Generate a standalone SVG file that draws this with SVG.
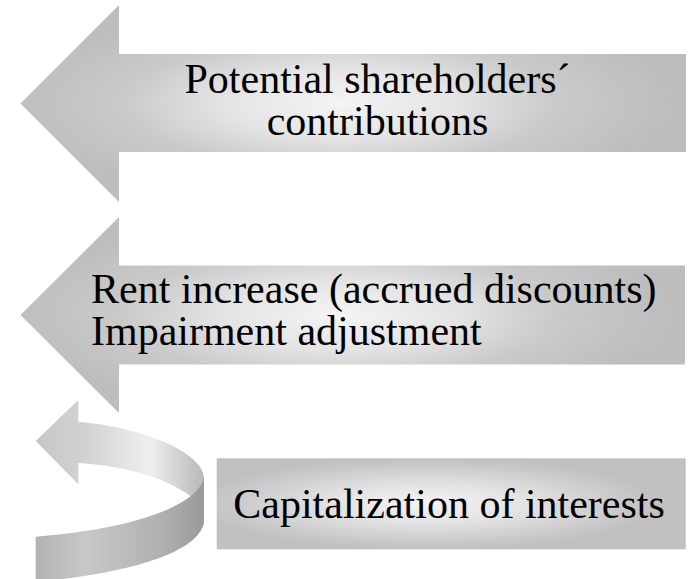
<svg xmlns="http://www.w3.org/2000/svg" width="692" height="579" viewBox="0 0 692 579">
  <defs>
    <style>
      text { font-family: 'Times New Roman', Times, 'Liberation Serif', 'Noto Serif', 'DejaVu Serif', serif; font-size: 42px; fill: #000000; }
      .block { fill: url(#blockShade); }
      .plate { fill: url(#plateShade); }
    </style>
    <!-- soft grey shading, light in the middle, darker toward the rims -->
    <radialGradient id="blockShade" cx="0.48" cy="0.5" r="0.5">
      <stop offset="0" stop-color="#f4f4f4"/>
      <stop offset="0.35" stop-color="#e4e4e4"/>
      <stop offset="0.65" stop-color="#cacaca"/>
      <stop offset="1" stop-color="#bdbdbd"/>
    </radialGradient>
    <radialGradient id="plateShade" cx="0.45" cy="0.5" r="0.5">
      <stop offset="0" stop-color="#f3f3f3"/>
      <stop offset="0.4" stop-color="#e4e4e4"/>
      <stop offset="1" stop-color="#c0c0c0"/>
    </radialGradient>
    <!-- curled arrow: back strip (with head) and front strip -->
    <linearGradient id="curlBack" x1="35" y1="0" x2="204" y2="0" gradientUnits="userSpaceOnUse">
      <stop offset="0" stop-color="#c6c6c6"/>
      <stop offset="0.3" stop-color="#d2d2d2"/>
      <stop offset="0.68" stop-color="#efefef"/>
      <stop offset="1" stop-color="#b8b8b8"/>
    </linearGradient>
    <linearGradient id="curlFront" x1="35" y1="0" x2="204" y2="0" gradientUnits="userSpaceOnUse">
      <stop offset="0" stop-color="#b2b2b2"/>
      <stop offset="0.3" stop-color="#c8c8c8"/>
      <stop offset="0.75" stop-color="#b0b0b0"/>
      <stop offset="1" stop-color="#9a9a9a"/>
    </linearGradient>
  </defs>

  <!-- upper block arrow -->
  <g id="shareholder-contributions">
    <path class="block" d="M20.5,103.5 L119,5 L119,54 L686,54 L686,152 L119,152 L119,202 Z"/>
    <text x="377.5" y="92.5" text-anchor="middle">Potential shareholders´</text>
    <text x="377.5" y="135" text-anchor="middle">contributions</text>
  </g>

  <!-- middle block arrow -->
  <g id="rent-impairment">
    <path class="block" d="M20.5,315 L119,217 L119,265.5 L685,265.5 L685,364.5 L119,364.5 L119,413 Z"/>
    <text x="91" y="302.5">Rent increase (accrued discounts)</text>
    <text x="91" y="345">Impairment adjustment</text>
  </g>

  <!-- lower plate -->
  <g id="capitalization">
    <rect class="plate" x="216.7" y="458.3" width="469" height="91"/>
    <text x="233.3" y="518.3">Capitalization of interests</text>
  </g>

  <!-- curled return arrow -->
  <g id="connectors">
    <path fill="url(#curlBack)" d="M35.7,441 L78.3,400 L78.3,421.7 C150,428 204,455 204,478 L204,500 L193,498 C170,480 130,466 78.3,463 L78.3,484.3 Z"/>
    <path fill="url(#curlFront)" d="M35.7,536.7 C120,530 195,510 204,478 L204,523 C195,560 100,576 35.7,582 Z"/>
  </g>
</svg>
